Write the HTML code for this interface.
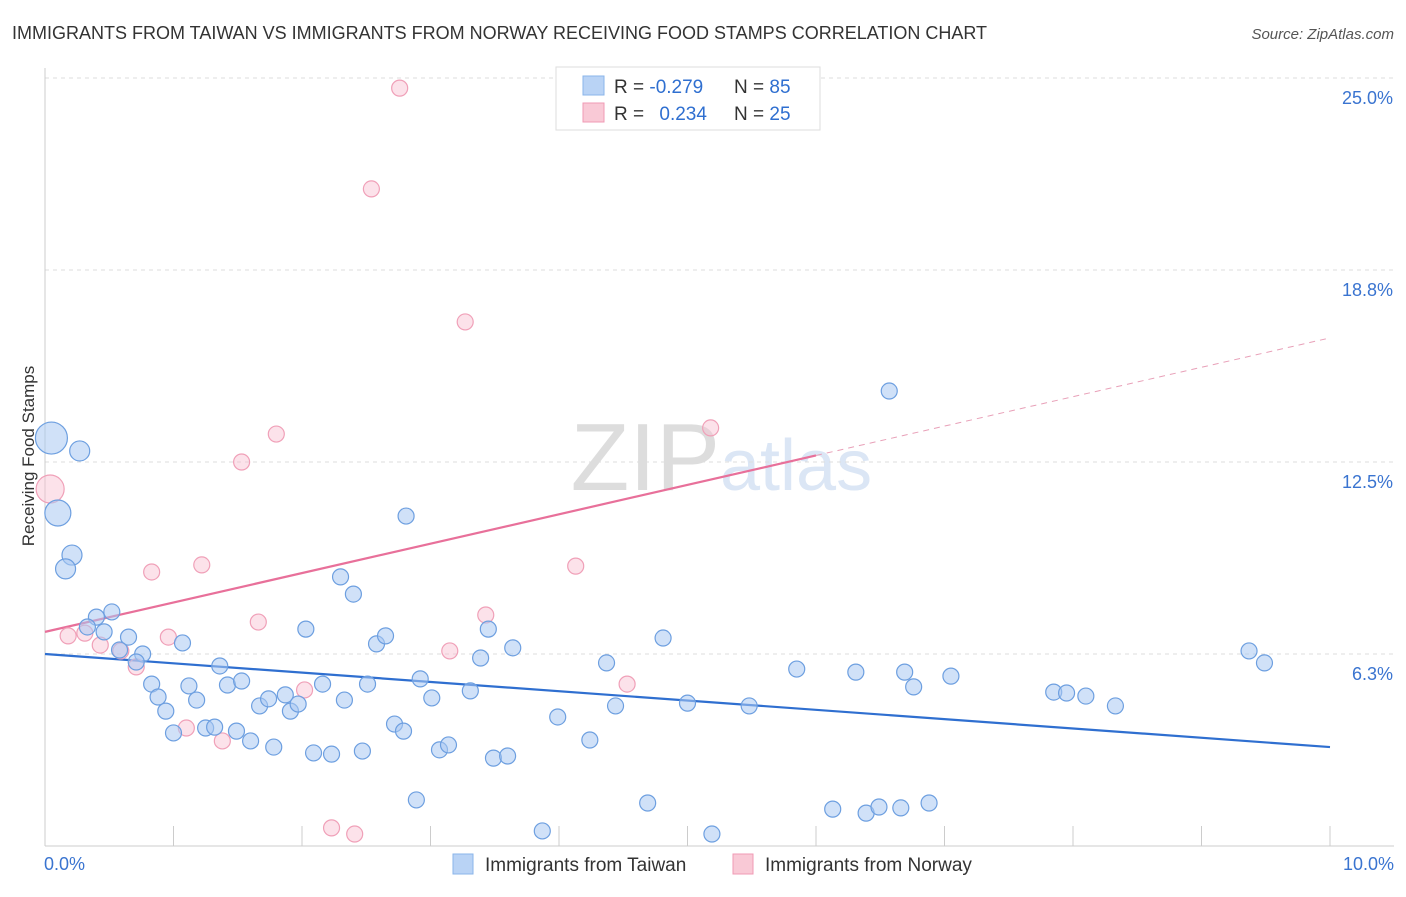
<!DOCTYPE html>
<html><head><meta charset="utf-8"><style>
body{margin:0;background:#fff;font-family:"Liberation Sans",sans-serif;}
svg text{font-family:"Liberation Sans",sans-serif;}
</style></head><body>
<svg id="chart" width="1406" height="892">
<text x="12" y="39" font-size="18" fill="#333">IMMIGRANTS FROM TAIWAN VS IMMIGRANTS FROM NORWAY RECEIVING FOOD STAMPS CORRELATION CHART</text>
<text x="1394" y="39" font-size="15" fill="#555" font-style="italic" text-anchor="end">Source: ZipAtlas.com</text>
<text x="720" y="490" font-size="96" fill="#ddd" font-family="Liberation Serif" text-anchor="end">ZIP</text>
<text x="720" y="490" font-size="72" fill="#dbe6f5">atlas</text>
<text transform="translate(34,456) rotate(-90)" font-size="17" fill="#333" text-anchor="middle">Receiving Food Stamps</text>
<g id="grid"></g><g id="lines"></g><g id="pts"></g>
<g>
<rect x="556" y="67" width="264" height="63" fill="#fff" stroke="#ddd"/>
<rect x="583" y="76" width="21" height="19" fill="#b9d3f5" stroke="#8ab4ea"/>
<rect x="583" y="103" width="21" height="19" fill="#f9c9d6" stroke="#f09ab4"/>
<text x="614" y="93" font-size="19" fill="#333">R = <tspan fill="#2f6fd0">-0.279</tspan></text>
<text x="734" y="93" font-size="19" fill="#333">N = <tspan fill="#2f6fd0">85</tspan></text>
<text x="614" y="120" font-size="19" fill="#333">R = <tspan fill="#2f6fd0" dx="10">0.234</tspan></text>
<text x="734" y="120" font-size="19" fill="#333">N = <tspan fill="#2f6fd0">25</tspan></text>
</g>
<g>
<rect x="453" y="854" width="20" height="20" fill="#b9d3f5" stroke="#8ab4ea"/>
<text x="485" y="871" font-size="19" fill="#333">Immigrants from Taiwan</text>
<rect x="733" y="854" width="20" height="20" fill="#f9c9d6" stroke="#f09ab4"/>
<text x="765" y="871" font-size="19" fill="#333">Immigrants from Norway</text>
</g>
</svg>
<script>
const yTicks=[25,18.75,12.5,6.25];
const yTickLabels=["25.0%","18.8%","12.5%","6.3%"];
const xTickCount=[0,1,2,3,4,5,6,7,8,9,10];
const taiwanX=[0.05,0.10,0.27,0.21,0.16,0.52,0.40,0.33,0.46,0.65,0.58,0.76,0.71,1.07,0.83,0.88,0.94,1.00,1.12,1.18,1.36,1.42,1.53,1.25,1.32,1.49,1.60,1.78,1.67,1.74,1.87,1.91,1.97,2.03,2.16,2.09,2.23,2.30,2.40,2.33,2.51,2.47,2.58,2.65,2.81,2.72,2.79,2.92,3.01,2.89,3.07,3.14,3.31,3.39,3.45,3.49,3.60,3.64,3.87,3.99,4.24,4.37,4.44,4.69,4.81,5.00,5.19,5.48,5.85,6.13,6.31,6.39,6.49,6.57,6.66,6.69,6.76,6.88,7.05,7.85,7.95,8.10,8.33,9.37,9.49];
const taiwanY=[13.28,10.84,12.86,9.47,9.02,7.62,7.45,7.13,6.97,6.80,6.38,6.25,5.99,6.61,5.27,4.85,4.39,3.68,5.21,4.75,5.86,5.24,5.37,3.84,3.87,3.74,3.42,3.22,4.56,4.79,4.92,4.39,4.62,7.06,5.27,3.03,2.99,8.76,8.20,4.75,5.27,3.09,6.58,6.84,10.74,3.97,3.74,5.44,4.82,1.50,3.13,3.29,5.05,6.12,7.06,2.86,2.93,6.45,0.49,4.20,3.45,5.96,4.56,1.40,6.77,4.65,0.39,4.56,5.76,1.20,5.66,1.07,1.27,14.81,1.24,5.66,5.18,1.40,5.53,5.01,4.98,4.88,4.56,6.35,5.96];
const taiwanR=[16,13,10,10,10];
const norwayX=[0.04,0.18,0.31,0.43,0.59,0.71,0.83,0.96,1.10,1.22,1.38,1.53,1.66,1.80,2.02,2.23,2.41,2.54,2.76,3.15,3.27,3.43,4.13,4.53,5.18];
const norwayY=[11.62,6.84,6.93,6.54,6.35,5.83,8.92,6.80,3.84,9.15,3.42,12.50,7.29,13.41,5.08,0.59,0.39,21.39,24.67,6.35,17.06,7.52,9.11,5.27,13.61];
const taiwanTrend=[6.25,3.22];
const norwayTrend=[6.97,16.54];
const norwaySolidEnd=6.0;
const X=v=>45+v*128.5, Y=v=>846-v*30.72;
const ns="http://www.w3.org/2000/svg";
function mk(p,t,a){const e=document.createElementNS(ns,t);for(const k in a)e.setAttribute(k,a[k]);p.appendChild(e);return e;}
const g=document.getElementById('grid'),l=document.getElementById('lines'),p=document.getElementById('pts');
yTicks.forEach((v,i)=>{
 const ln=mk(g,'line',{x1:45,x2:1394,y1:Y(v),y2:Y(v),stroke:'#ddd','stroke-dasharray':'4,4'});
 
 
 const t=mk(g,'text',{x:1393,y:Y(v)+26,'font-size':18,fill:'#3a74d0','text-anchor':'end'});t.textContent=yTickLabels[i];
 
 
});
const ax=mk(g,'line',{x1:45,x2:45,y1:68,y2:846,stroke:'#ccc'});


const bx=mk(g,'line',{x1:45,x2:1394,y1:846,y2:846,stroke:'#ccc'});


xTickCount.forEach(v=>{const t=mk(g,'line',{x1:X(v),x2:X(v),y1:826,y2:846,stroke:'#ccc'});
 
 });
const x0=mk(g,'text',{x:44,y:870,'font-size':18,fill:'#3a74d0'});x0.textContent='0.0%';


const x1=mk(g,'text',{x:1394,y:870,'font-size':18,fill:'#3a74d0','text-anchor':'end'});x1.textContent='10.0%';


norwayX.forEach((v,i)=>{const c=mk(p,'circle',{cx:X(v),cy:Y(norwayY[i]),r:i==0?14:8,fill:'rgba(248,190,208,0.45)',stroke:'#f0a0b8','stroke-width':1.2});
 
 });
taiwanX.forEach((v,i)=>{const c=mk(p,'circle',{cx:X(v),cy:Y(taiwanY[i]),r:taiwanR[i]||8,fill:'rgba(170,200,242,0.55)',stroke:'#6d9fe0','stroke-width':1.2});
 
 });
const tl=mk(l,'line',{x1:X(0),y1:Y(taiwanTrend[0]),x2:X(10),y2:Y(taiwanTrend[1]),stroke:'#2f6fd0','stroke-width':2.2});


const nAt=x=>norwayTrend[0]+(norwayTrend[1]-norwayTrend[0])*x/10;
const nl=mk(l,'line',{x1:X(0),y1:Y(nAt(0)),x2:X(norwaySolidEnd),y2:Y(nAt(norwaySolidEnd)),stroke:'#e8709a','stroke-width':2.2});


const nd=mk(l,'line',{x1:X(norwaySolidEnd),y1:Y(nAt(norwaySolidEnd)),x2:X(10),y2:Y(nAt(10)),stroke:'#e8a0b8','stroke-width':1,'stroke-dasharray':'6,5'});


</script>
</body></html>
